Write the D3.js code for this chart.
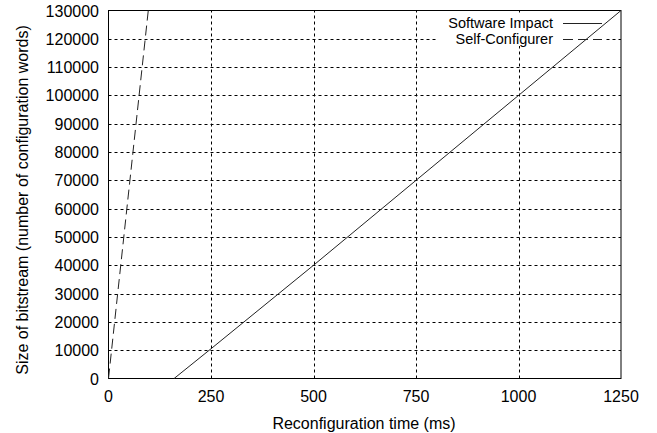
<!DOCTYPE html>
<html lang="en">
<head>
    <meta charset="UTF-8">
    <script src="https://d3js.org/d3.v7.min.js"></script>
    <title>Reconfiguration time vs bitstream size</title>
    <style>
        body {
            margin: 0;
            background: white;
        }
        svg {
            font-family: "Liberation Sans", Arial, sans-serif;
            display: block;
        }
        .grid line {
            stroke: #000;
            stroke-width: 1;
            stroke-dasharray: 3,3;
        }
        .tick-label {
            font-size: 16px;
            fill: #000;
        }
        .axis-title {
            font-size: 16px;
            fill: #000;
        }
    </style>
</head>
<body>
<div id="chart"></div>
<script>
    // Données
    const xTicks = [0, 250, 500, 750, 1000, 1250];
    const yTicks = d3.range(0, 130001, 10000);

    const seriesNames = ["Software Impact", "Self-Configurer"];
    // temps (ms) / taille (mots)
    const softwareTime = [160, 250, 500, 750, 1000, 1250];
    const softwareSize = [0, 10500, 40000, 70000, 100000, 130000];
    const selfConfTime = [0, 97];
    const selfConfSize = [0, 130000];

    const width = 657;
    const height = 433;

    const svg = d3.select("#chart")
        .append("svg")
        .attr("width", width)
        .attr("height", height);

    const x = d3.scaleLinear()
        .domain([0, 1250])
        .range([108.5, 621]);

    const y = d3.scaleLinear()
        .domain([0, 130000])
        .range([378.5, 10.5]);

    // Grille
    const grid = svg.append("g").attr("class", "grid");
    grid.selectAll(".vgrid")
        .data(xTicks.filter(d => d > 0 && d < 1250))
        .join("line")
        .attr("x1", d => Math.round(x(d)) + 0.5)
        .attr("x2", d => Math.round(x(d)) + 0.5)
        .attr("y1", y(0))
        .attr("y2", y(130000));
    grid.selectAll(".hgrid")
        .data(yTicks.filter(d => d > 0 && d < 130000))
        .join("line")
        .attr("x1", x(0))
        .attr("x2", x(1250))
        .attr("y1", d => Math.round(y(d)) + 0.5)
        .attr("y2", d => Math.round(y(d)) + 0.5);

    // fond blanc de la légende (masque la grille)
    svg.append("rect")
        .attr("x", 436)
        .attr("y", 15)
        .attr("width", 170)
        .attr("height", 31)
        .attr("fill", "white");

    // Bordure
    svg.append("rect")
        .attr("x", x(0))
        .attr("y", y(130000))
        .attr("width", x(1250) - x(0))
        .attr("height", y(0) - y(130000))
        .attr("fill", "none")
        .attr("stroke", "#000")
        .attr("stroke-width", 1);

    // Labels des ticks
    svg.append("g")
        .selectAll("text")
        .data(xTicks)
        .join("text")
        .attr("class", "tick-label")
        .attr("x", d => x(d))
        .attr("y", 402)
        .attr("text-anchor", "middle")
        .text(d => d);

    svg.append("g")
        .selectAll("text")
        .data(yTicks)
        .join("text")
        .attr("class", "tick-label")
        .attr("x", 99)
        .attr("y", d => y(d) + 6)
        .attr("text-anchor", "end")
        .text(d => d);

    // Titres des axes
    svg.append("text")
        .attr("class", "axis-title")
        .attr("x", 364)
        .attr("y", 429)
        .attr("text-anchor", "middle")
        .text("Reconfiguration time (ms)");

    svg.append("text")
        .attr("class", "axis-title")
        .attr("transform", "translate(28,200) rotate(-90)")
        .attr("text-anchor", "middle")
        .text("Size of bitstream (number of configuration words)");

    // Courbes
    const line = d3.line()
        .x(d => x(d[0]))
        .y(d => y(d[1]));

    const styles = [
        { dash: null },
        { dash: "10,5" }
    ];

    const series = [
        d3.zip(softwareTime, softwareSize),
        d3.zip(selfConfTime, selfConfSize)
    ];

    series.forEach((data, i) => {
        svg.append("path")
            .datum(data)
            .attr("fill", "none")
            .attr("stroke", "#222")
            .attr("stroke-width", 1)
            .attr("stroke-dasharray", styles[i].dash)
            .attr("d", line);
    });

    // Légende
    const legend = svg.append("g");
    seriesNames.forEach((name, i) => {
        const ly = 23 + i * 16;
        legend.append("text")
            .attr("x", 553)
            .attr("y", ly + 5)
            .attr("text-anchor", "end")
            .style("font-size", "14.5px")
            .text(name);
        legend.append("line")
            .attr("x1", 563)
            .attr("x2", 602)
            .attr("y1", Math.round(ly) + 0.5)
            .attr("y2", Math.round(ly) + 0.5)
            .attr("stroke", "#222")
            .attr("stroke-width", 1)
            .attr("stroke-dasharray", styles[i].dash);
    });
</script>
</body>
</html>
